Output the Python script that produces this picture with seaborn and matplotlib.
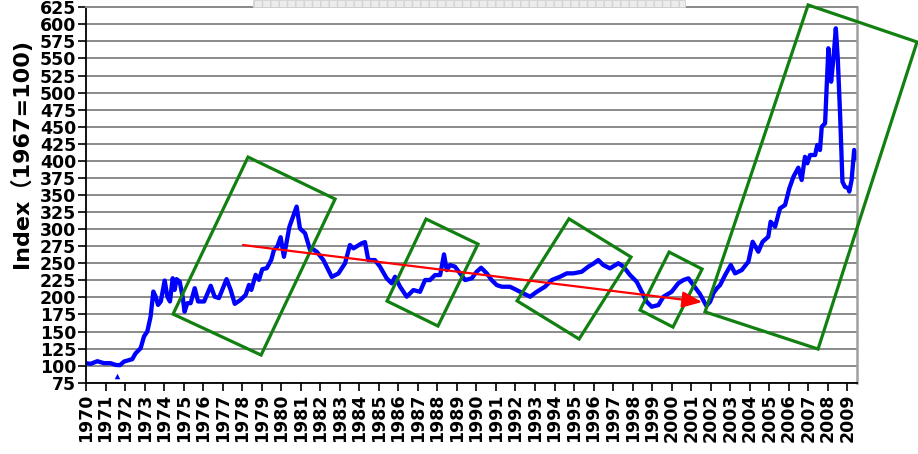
import numpy as np
import pandas as pd
import matplotlib
matplotlib.use("Agg")
import matplotlib.pyplot as plt
from matplotlib.patches import Polygon, Rectangle, FancyArrowPatch
import seaborn as sns

# ---------------- data ----------------
years = [
    1970.00, 1970.24, 1970.58, 1970.92, 1971.26, 1971.52, 1971.74, 1971.95, 1972.37, 1972.54,
    1972.80, 1972.97, 1973.14, 1973.31, 1973.45, 1973.57, 1973.69, 1973.83, 1974.03, 1974.17,
    1974.30, 1974.44, 1974.54, 1974.64, 1974.80, 1974.95, 1975.05, 1975.19, 1975.36, 1975.57,
    1975.74, 1976.05, 1976.39, 1976.59, 1976.81, 1977.20, 1977.41, 1977.62, 1977.92, 1978.18,
    1978.35, 1978.47, 1978.69, 1978.86, 1979.03, 1979.26, 1979.49, 1979.63, 1979.80, 1979.97,
    1980.14, 1980.42, 1980.79, 1980.96, 1981.22, 1981.48, 1981.56, 1981.82, 1982.16, 1982.59,
    1982.93, 1983.27, 1983.52, 1983.70, 1984.12, 1984.29, 1984.46, 1984.80, 1985.06, 1985.40,
    1985.66, 1985.83, 1986.09, 1986.43, 1986.77, 1987.11, 1987.37, 1987.62, 1987.88, 1988.14,
    1988.34, 1988.48, 1988.65, 1988.90, 1989.16, 1989.42, 1989.76, 1990.01, 1990.24, 1990.53,
    1990.78, 1991.04, 1991.30, 1991.72, 1992.06, 1992.40, 1992.75, 1993.09, 1993.51, 1993.86,
    1994.28, 1994.63, 1994.96, 1995.39, 1995.73, 1996.02, 1996.24, 1996.50, 1996.84, 1997.27,
    1997.53, 1997.87, 1998.21, 1998.47, 1998.72, 1998.98, 1999.32, 1999.58, 2000.00, 2000.34,
    2000.60, 2000.86, 2001.11, 2001.45, 2001.78, 2001.97, 2002.14, 2002.31, 2002.48, 2002.74,
    2003.03, 2003.25, 2003.59, 2003.93, 2004.15, 2004.44, 2004.66, 2004.95, 2005.07, 2005.30,
    2005.55, 2005.81, 2006.03, 2006.24, 2006.49, 2006.66, 2006.83, 2006.95, 2007.09, 2007.35,
    2007.46, 2007.60, 2007.69, 2007.86, 2008.03, 2008.17, 2008.29, 2008.41, 2008.51, 2008.63,
    2008.75, 2008.88, 2009.05, 2009.10, 2009.22, 2009.35, 2009.43, 2009.50,
]
index_values = [
    103.6, 102.6, 106.5, 103.6, 103.6, 101.0, 100.7, 106.0, 109.5, 118.0,
    125.6, 142.7, 150.0, 172.0, 208.6, 201.0, 189.0, 194.0, 224.7, 201.0,
    194.0, 228.0, 211.0, 226.7, 223.0, 201.0, 179.0, 191.5, 191.5, 213.5,
    194.0, 194.0, 217.0, 201.0, 199.0, 226.7, 211.0, 190.5, 196.4, 203.7,
    218.3, 211.0, 233.0, 225.7, 241.3, 242.8, 255.0, 269.6, 274.5, 288.2,
    259.5, 303.5, 333.0, 301.0, 294.0, 269.3, 271.8, 266.9, 254.7, 230.0,
    235.0, 250.0, 276.7, 271.8, 279.2, 281.0, 254.7, 254.7, 245.0, 228.0,
    220.6, 230.2, 215.6, 201.0, 210.7, 208.2, 225.4, 225.4, 232.7, 232.7,
    263.0, 240.0, 247.4, 245.0, 235.2, 225.4, 227.9, 237.5, 243.4, 235.2,
    225.4, 218.0, 215.6, 215.6, 210.7, 205.9, 201.0, 208.2, 215.6, 225.4,
    230.2, 235.2, 235.2, 237.5, 245.0, 250.0, 254.7, 247.4, 242.5, 250.0,
    245.0, 232.7, 222.9, 208.2, 193.6, 186.3, 188.7, 201.0, 208.2, 220.6,
    225.4, 227.9, 218.0, 205.0, 187.5, 193.6, 206.0, 213.0, 218.0, 232.7,
    247.4, 235.2, 240.0, 252.2, 281.5, 266.9, 281.5, 288.8, 310.8, 303.5,
    330.4, 335.3, 359.8, 376.8, 390.0, 372.0, 406.0, 396.4, 408.6, 408.6,
    423.2, 415.9, 450.0, 455.0, 565.0, 516.0, 550.3, 594.2, 550.3, 467.2,
    369.4, 362.0, 359.8, 355.0, 372.0, 416.0, 404.0, 411.0,
]
# isolated stray reading in late 1971
glitch_year = [1971.6]
glitch_value = [85.0]

year_ticks = list(range(1970, 2010))
value_ticks = list(range(75, 626, 25))
ylabel_text = "Index（1967=100)"

# annotation shapes (data coordinates)
box_corners = [
    [(1974.46, 175.5), (1978.30, 405.6), (1982.76, 344.1), (1978.97, 115.5)],
    [(1985.42, 194.6), (1987.42, 314.8), (1990.08, 278.1), (1988.03, 158.0)],
    [(1992.08, 194.9), (1994.74, 315.1), (1997.92, 259.1), (1995.26, 139.0)],
    [(1998.38, 181.4), (1999.87, 266.4), (2001.56, 241.5), (2000.07, 156.5)],
    [(2001.71, 178.8), (2006.99, 628.4), (2012.57, 574.2), (2007.50, 124.3)],
]
arrow_start = (1978.04, 276.7)
arrow_end = (2001.56, 193.2)

df = pd.DataFrame({"year": years, "index": index_values})
gdf = pd.DataFrame({"year": glitch_year, "index": glitch_value})

# ---------------- style ----------------
sns.set_theme(style="white")
plt.rcParams["font.family"] = ["DejaVu Sans", "Noto Sans CJK SC"]

fig = plt.figure(figsize=(9.18, 4.54), dpi=100)
ax = fig.add_axes([86 / 918, 71.3 / 454, (856.7 - 86) / 918, (382.7 - 7.3) / 454])

ax.set_xlim(1970, 2009.48)
ax.set_ylim(75, 625)

ax.set_yticks(value_ticks)
ax.set_yticklabels([str(v) for v in value_ticks], fontsize=12.5, fontweight="bold")
ax.set_xticks(year_ticks)
ax.set_xticklabels([str(y) for y in year_ticks], rotation=90, fontsize=12.5,
                   fontweight="bold")
ax.tick_params(axis="both", direction="out", length=6, width=1.2, color="black",
               pad=1, labelcolor="black")
ax.tick_params(axis="x", pad=2)
ax.tick_params(left=True, bottom=True)

ax.grid(axis="y", color="#8a8a8a", linewidth=1.4)
ax.grid(axis="x", visible=False)
ax.set_axisbelow(True)

for side in ["left", "bottom"]:
    ax.spines[side].set_color("black")
    ax.spines[side].set_linewidth(1.3)
ax.spines["right"].set_color("#a0a0a0")
ax.spines["right"].set_linewidth(1.8)
ax.spines["top"].set_color("#8a8a8a")
ax.spines["top"].set_linewidth(1.4)

sns.lineplot(data=df, x="year", y="index", ax=ax, color="#0000ff", linewidth=3.1,
             estimator=None, sort=False, legend=False)
sns.scatterplot(data=gdf, x="year", y="index", ax=ax, color="#0000ff", marker="^",
                s=16, linewidth=0, legend=False)
ax.set_xlabel("")
ax.set_ylabel("")

for corners in box_corners:
    poly = Polygon(corners, closed=True, fill=False, edgecolor="#118011",
                   linewidth=2.3, clip_on=False, zorder=4, joinstyle="miter")
    ax.add_patch(poly)

arrow = FancyArrowPatch(arrow_start, arrow_end,
                        arrowstyle="-|>,head_length=1.1,head_width=0.45",
                        mutation_scale=11, color="#ff0000", linewidth=1.6,
                        zorder=5, shrinkA=0, shrinkB=0)
ax.add_patch(arrow)

fig.text(21 / 918, 1 - 153 / 454, ylabel_text, rotation=90, ha="center", va="center",
         fontsize=16, fontweight="bold", color="black")

# grey toolbar strip at top of screenshot
fig.patches.append(Rectangle((253 / 918, 1 - 7 / 454), (685 - 253) / 918, 7 / 454,
                             transform=fig.transFigure, facecolor="#ececec",
                             edgecolor="#d2d2d2", hatch="||", linewidth=0.6,
                             zorder=0))

fig.savefig("out.png", dpi=100)
